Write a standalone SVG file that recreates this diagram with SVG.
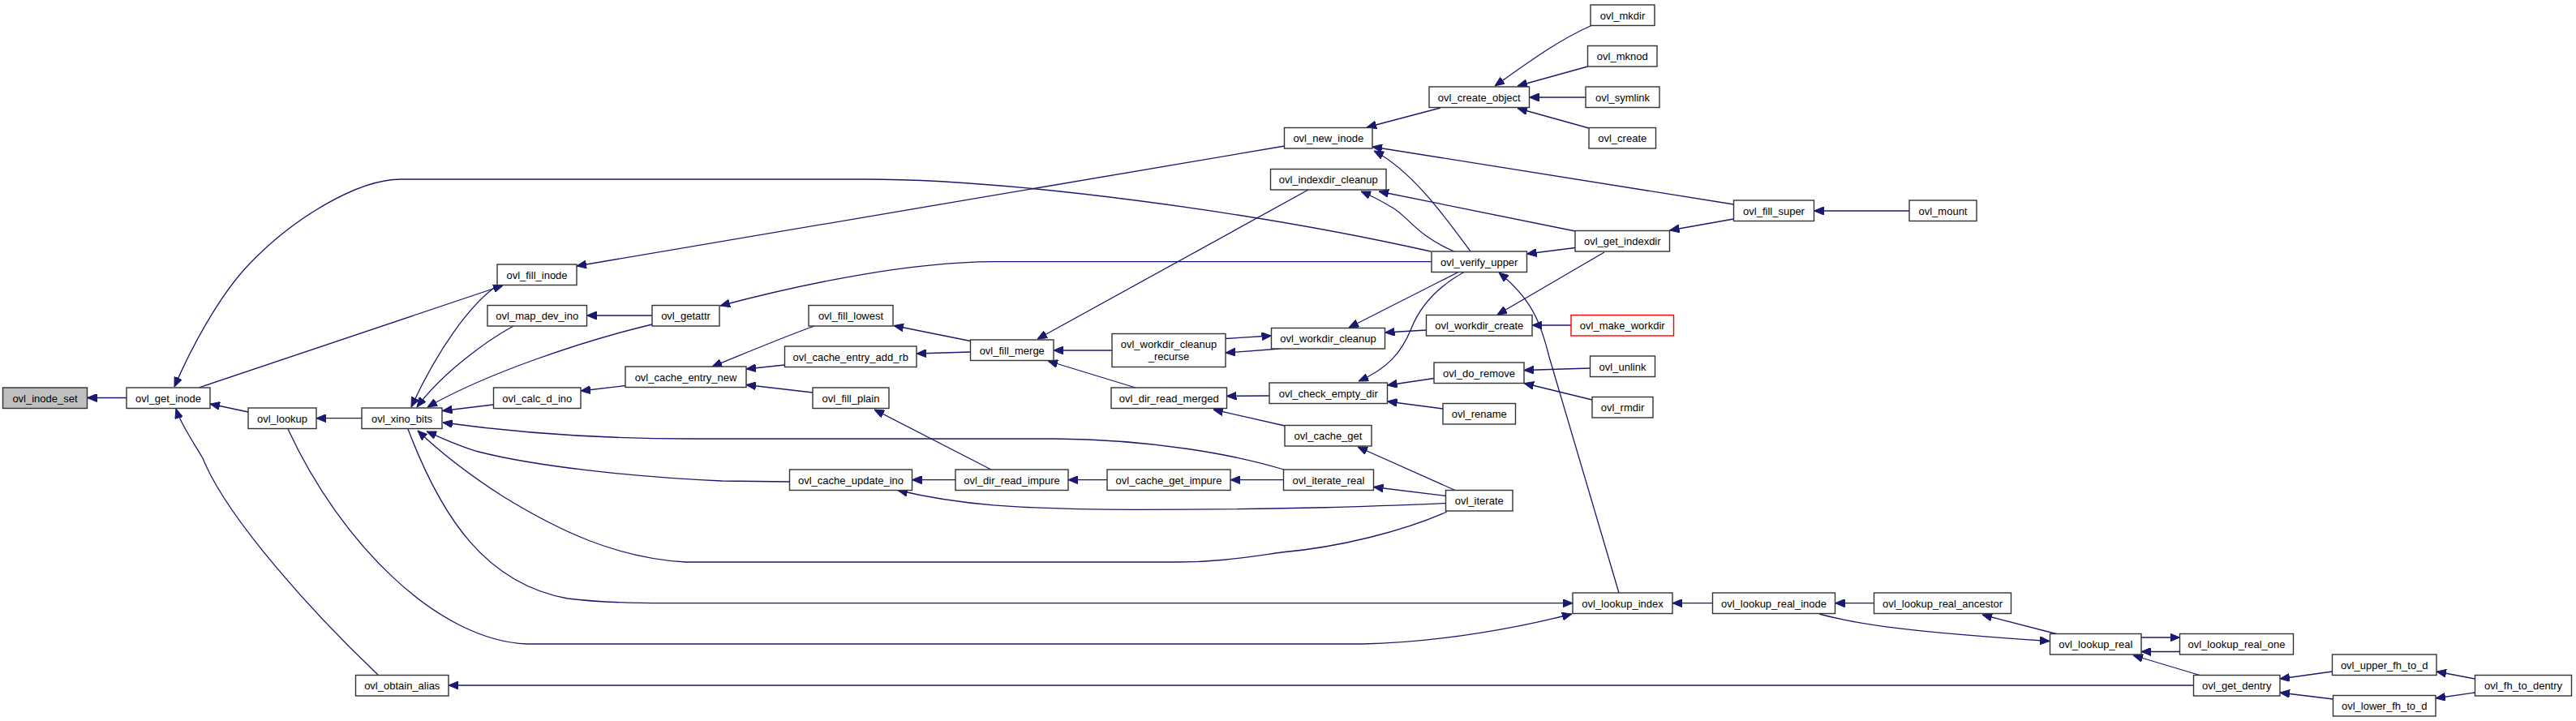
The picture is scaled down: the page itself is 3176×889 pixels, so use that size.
<svg xmlns="http://www.w3.org/2000/svg" width="3176" height="889" viewBox="0 0 3176 889">
<style>
.n rect{fill:#ffffff;stroke:#333333;stroke-width:1.4}
.n.root rect{fill:#bfbfbf}
.n.trunc rect{stroke:#ff0000}
.n text{font-family:"Liberation Sans",Arial,sans-serif;font-size:13px;fill:#000;text-anchor:middle}
#edges path{fill:none;stroke:#191970;stroke-width:1.3;marker-end:url(#ah)}
</style>
<defs>
<marker id="ah" viewBox="0 0 12 10" refX="12" refY="5" markerWidth="12" markerHeight="10" markerUnits="userSpaceOnUse" orient="auto">
<path d="M0,0 L12,5 L0,10 z" fill="#191970" stroke="#191970" stroke-width="1"/>
</marker>
</defs>
<rect width="3176" height="889" fill="#ffffff"/>
<g id="edges">
<path d="M156,490.5 L107.5,490.5"/>
<path d="M306,508 L259,498"/>
<path d="M466,832 C390,760 280,640 250,565 C235,540 222,520 217,504"/>
<path d="M245,478 L620,352"/>
<path d="M613,352 C580,375 540,430 507,502"/>
<path d="M633,402 C600,420 545,460 514,502"/>
<path d="M804,400 C720,420 600,460 527,502"/>
<path d="M608,499 L545.5,506.5"/>
<path d="M1583,579 C1520,560 1420,542 1300,541 L850,541 C740,541 640,534 546,521"/>
<path d="M974,594 L890,593 C780,588 660,575 590,557 C565,550 545,540 526,532"/>
<path d="M1784,631 C1730,655 1650,675 1580,681 C1530,688 1500,693 1453,693 L845,693 C760,688 690,655 620,612 C570,580 540,555 515,531"/>
<path d="M503,529 C545,640 600,720 700,738 C740,743 780,743.7 820,743.7 L1939,743.7"/>
<path d="M355,529 C420,670 540,790 650,794 L1680,794 C1780,792 1880,772 1938,757"/>
<path d="M1996,731 L1910,440 C1900,400 1890,370 1848,336"/>
<path d="M2111.5,743.7 L2062,743.7"/>
<path d="M2310.5,743.7 L2262.5,743.7"/>
<path d="M2243,757 C2290,770 2360,780 2527,790.5"/>
<path d="M2537,782 L2444,758"/>
<path d="M2640,786 L2687.5,786"/>
<path d="M2687.5,803.5 L2640,803.5"/>
<path d="M2712,832.5 L2630,808"/>
<path d="M2704.5,845 L553,845"/>
<path d="M2875.5,828 L2811,837"/>
<path d="M2876.5,862 L2811,854"/>
<path d="M3051.5,837 L3004,828"/>
<path d="M3051.5,854 L3003,861"/>
<path d="M446,515.7 L390,515.7"/>
<path d="M771,475.5 L716,482"/>
<path d="M1004,402 C970,414 920,435 878,452"/>
<path d="M967.5,450 L920,455"/>
<path d="M1002,484 L920,474.5"/>
<path d="M1584,180 L711,328"/>
<path d="M804,389 L723.5,389"/>
<path d="M1765,322.7 L1225,322.7 C1120,323 990,350 888,377"/>
<path d="M1764,310 C1550,262 1250,221 1065,221 L495,221 C440,221 360,270 306,327 C270,365 235,430 215,477"/>
<path d="M1813,310 C1780,265 1740,210 1694,186"/>
<path d="M2137.5,252 L1692,181"/>
<path d="M1776,133 L1685,157"/>
<path d="M1962,31.5 C1920,50 1880,80 1843,106"/>
<path d="M1957.5,82 L1871,106"/>
<path d="M1955,120 L1885.5,120"/>
<path d="M1959,158 L1871,133.5"/>
<path d="M1793,310 C1745,290 1735,265 1715,255 C1700,246 1690,241 1678,236"/>
<path d="M1942,285 L1700,236"/>
<path d="M1613,234 L1279,418"/>
<path d="M2137.5,270 L2058.5,284"/>
<path d="M2354,260 L2236.5,260"/>
<path d="M1942,305.5 L1882.5,313"/>
<path d="M1978,311 L1846,388"/>
<path d="M1798,335.5 L1663,404"/>
<path d="M1805,335.5 C1770,355 1750,380 1740,405 C1728,435 1710,455 1675,470"/>
<path d="M1758.5,407 L1707.5,410"/>
<path d="M1937,401 L1889,401"/>
<path d="M1578,430 L1511,435"/>
<path d="M1511,417.5 L1567.5,414"/>
<path d="M1371,432 L1299,432"/>
<path d="M1196.5,434 L1130,436"/>
<path d="M1196.5,420.5 L1102,401.5"/>
<path d="M1400,478 L1292,445"/>
<path d="M1565,488 L1512.5,488.3"/>
<path d="M1584,525 L1496,505"/>
<path d="M1222,579 L1078,505"/>
<path d="M1178,591.7 L1124.5,591.7"/>
<path d="M1365,591.7 L1317,591.7"/>
<path d="M1582.5,591.7 L1517,591.7"/>
<path d="M1794,604.5 L1674,551"/>
<path d="M1782.5,611.5 L1693.5,600.5"/>
<path d="M1782.5,620.5 C1700,624 1600,628.3 1400,628.3 C1250,628 1180,622 1107,604.5"/>
<path d="M1768,466.5 L1710.5,475"/>
<path d="M1960.5,454 L1879,456.5"/>
<path d="M1963,493 L1879,472.5"/>
<path d="M1779,504 L1710.5,495"/>
</g>
<g id="n_ovl_inode_set" class="n root"><rect x="3.5" y="478" width="104" height="25.5"/><text x="55.5" y="495.5">ovl_inode_set</text></g>
<g id="n_ovl_get_inode" class="n"><rect x="156" y="478" width="103" height="25.5"/><text x="207.5" y="495.5">ovl_get_inode</text></g>
<g id="n_ovl_lookup" class="n"><rect x="306" y="503" width="84" height="25.5"/><text x="348" y="520.5">ovl_lookup</text></g>
<g id="n_ovl_xino_bits" class="n"><rect x="446" y="503" width="99" height="25.5"/><text x="495.5" y="520.5">ovl_xino_bits</text></g>
<g id="n_ovl_fill_inode" class="n"><rect x="613" y="326" width="98" height="25.5"/><text x="662" y="343.5">ovl_fill_inode</text></g>
<g id="n_ovl_map_dev_ino" class="n"><rect x="601" y="376.5" width="122.5" height="25.5"/><text x="662.25" y="394">ovl_map_dev_ino</text></g>
<g id="n_ovl_calc_d_ino" class="n"><rect x="608.5" y="478" width="107.5" height="25.5"/><text x="662.25" y="495.5">ovl_calc_d_ino</text></g>
<g id="n_ovl_obtain_alias" class="n"><rect x="438.5" y="832.5" width="114.5" height="25.5"/><text x="495.75" y="850">ovl_obtain_alias</text></g>
<g id="n_ovl_getattr" class="n"><rect x="804" y="376.5" width="83" height="25.5"/><text x="845.5" y="394">ovl_getattr</text></g>
<g id="n_ovl_cache_entry_new" class="n"><rect x="771" y="452" width="149" height="25.5"/><text x="845.5" y="469.5">ovl_cache_entry_new</text></g>
<g id="n_ovl_fill_lowest" class="n"><rect x="997" y="376.5" width="104" height="25.5"/><text x="1049" y="394">ovl_fill_lowest</text></g>
<g id="n_ovl_cache_entry_add_rb" class="n"><rect x="967.5" y="427" width="162.5" height="25.5"/><text x="1048.75" y="444.5">ovl_cache_entry_add_rb</text></g>
<g id="n_ovl_fill_plain" class="n"><rect x="1002" y="478" width="94" height="25.5"/><text x="1049" y="495.5">ovl_fill_plain</text></g>
<g id="n_ovl_cache_update_ino" class="n"><rect x="973.5" y="579" width="151" height="25.5"/><text x="1049" y="596.5">ovl_cache_update_ino</text></g>
<g id="n_ovl_fill_merge" class="n"><rect x="1196.5" y="419" width="102.5" height="25.5"/><text x="1247.75" y="436.5">ovl_fill_merge</text></g>
<g id="n_ovl_dir_read_impure" class="n"><rect x="1178" y="579" width="139" height="25.5"/><text x="1247.5" y="596.5">ovl_dir_read_impure</text></g>
<g id="n_ovl_workdir_cleanup_recurse" class="n"><rect x="1371" y="411.5" width="140" height="41"/><text x="1441" y="429">ovl_workdir_cleanup</text><text x="1441" y="443.5">_recurse</text></g>
<g id="n_ovl_dir_read_merged" class="n"><rect x="1370" y="478" width="142.5" height="25.5"/><text x="1441.25" y="495.5">ovl_dir_read_merged</text></g>
<g id="n_ovl_cache_get_impure" class="n"><rect x="1365" y="579" width="152" height="25.5"/><text x="1441" y="596.5">ovl_cache_get_impure</text></g>
<g id="n_ovl_new_inode" class="n"><rect x="1583.5" y="157.5" width="108.5" height="25.5"/><text x="1637.75" y="175">ovl_new_inode</text></g>
<g id="n_ovl_indexdir_cleanup" class="n"><rect x="1566.5" y="208.5" width="142.5" height="25.5"/><text x="1637.75" y="226">ovl_indexdir_cleanup</text></g>
<g id="n_ovl_workdir_cleanup" class="n"><rect x="1567.5" y="404.5" width="140" height="25.5"/><text x="1637.5" y="422">ovl_workdir_cleanup</text></g>
<g id="n_ovl_check_empty_dir" class="n"><rect x="1565" y="472" width="145.5" height="25.5"/><text x="1637.75" y="489.5">ovl_check_empty_dir</text></g>
<g id="n_ovl_cache_get" class="n"><rect x="1584" y="524.5" width="107" height="25.5"/><text x="1637.5" y="542">ovl_cache_get</text></g>
<g id="n_ovl_iterate_real" class="n"><rect x="1582.5" y="579" width="111" height="25.5"/><text x="1638" y="596.5">ovl_iterate_real</text></g>
<g id="n_ovl_create_object" class="n"><rect x="1762" y="107" width="123.5" height="25.5"/><text x="1823.75" y="124.5">ovl_create_object</text></g>
<g id="n_ovl_verify_upper" class="n"><rect x="1765" y="310" width="117.5" height="25.5"/><text x="1823.75" y="327.5">ovl_verify_upper</text></g>
<g id="n_ovl_workdir_create" class="n"><rect x="1758.5" y="388.5" width="130.5" height="25.5"/><text x="1823.75" y="406">ovl_workdir_create</text></g>
<g id="n_ovl_do_remove" class="n"><rect x="1768" y="447" width="111" height="25.5"/><text x="1823.5" y="464.5">ovl_do_remove</text></g>
<g id="n_ovl_rename" class="n"><rect x="1779" y="497.5" width="89.5" height="25.5"/><text x="1823.75" y="515">ovl_rename</text></g>
<g id="n_ovl_iterate" class="n"><rect x="1782.5" y="604.5" width="82.5" height="25.5"/><text x="1823.75" y="622">ovl_iterate</text></g>
<g id="n_ovl_mkdir" class="n"><rect x="1961" y="6" width="79" height="25.5"/><text x="2000.5" y="23.5">ovl_mkdir</text></g>
<g id="n_ovl_mknod" class="n"><rect x="1957.5" y="56.5" width="85.5" height="25.5"/><text x="2000.25" y="74">ovl_mknod</text></g>
<g id="n_ovl_symlink" class="n"><rect x="1955" y="107" width="91" height="25.5"/><text x="2000.5" y="124.5">ovl_symlink</text></g>
<g id="n_ovl_create" class="n"><rect x="1959" y="157.5" width="82.5" height="25.5"/><text x="2000.25" y="175">ovl_create</text></g>
<g id="n_ovl_get_indexdir" class="n"><rect x="1942" y="284.5" width="116.5" height="25.5"/><text x="2000.25" y="302">ovl_get_indexdir</text></g>
<g id="n_ovl_make_workdir" class="n trunc"><rect x="1937" y="388.5" width="126.5" height="25.5"/><text x="2000.25" y="406">ovl_make_workdir</text></g>
<g id="n_ovl_unlink" class="n"><rect x="1960.5" y="439" width="80" height="25.5"/><text x="2000.5" y="456.5">ovl_unlink</text></g>
<g id="n_ovl_rmdir" class="n"><rect x="1963" y="489.5" width="75" height="25.5"/><text x="2000.5" y="507">ovl_rmdir</text></g>
<g id="n_ovl_lookup_index" class="n"><rect x="1939" y="731" width="123" height="25.5"/><text x="2000.5" y="748.5">ovl_lookup_index</text></g>
<g id="n_ovl_fill_super" class="n"><rect x="2137.5" y="247" width="99" height="25.5"/><text x="2187" y="264.5">ovl_fill_super</text></g>
<g id="n_ovl_lookup_real_inode" class="n"><rect x="2111.5" y="731" width="151" height="25.5"/><text x="2187" y="748.5">ovl_lookup_real_inode</text></g>
<g id="n_ovl_mount" class="n"><rect x="2354" y="247" width="83" height="25.5"/><text x="2395.5" y="264.5">ovl_mount</text></g>
<g id="n_ovl_lookup_real_ancestor" class="n"><rect x="2310.5" y="731" width="169" height="25.5"/><text x="2395" y="748.5">ovl_lookup_real_ancestor</text></g>
<g id="n_ovl_lookup_real" class="n"><rect x="2527.5" y="781.5" width="112.5" height="25.5"/><text x="2583.75" y="799">ovl_lookup_real</text></g>
<g id="n_ovl_lookup_real_one" class="n"><rect x="2687.5" y="781.5" width="140" height="25.5"/><text x="2757.5" y="799">ovl_lookup_real_one</text></g>
<g id="n_ovl_get_dentry" class="n"><rect x="2704.5" y="832.5" width="106.5" height="25.5"/><text x="2757.75" y="850">ovl_get_dentry</text></g>
<g id="n_ovl_upper_fh_to_d" class="n"><rect x="2875.5" y="807" width="128.5" height="25.5"/><text x="2939.75" y="824.5">ovl_upper_fh_to_d</text></g>
<g id="n_ovl_lower_fh_to_d" class="n"><rect x="2876.5" y="857.5" width="126.5" height="25.5"/><text x="2939.75" y="875">ovl_lower_fh_to_d</text></g>
<g id="n_ovl_fh_to_dentry" class="n"><rect x="3051.5" y="832.5" width="119" height="25.5"/><text x="3111" y="850">ovl_fh_to_dentry</text></g>
</svg>
